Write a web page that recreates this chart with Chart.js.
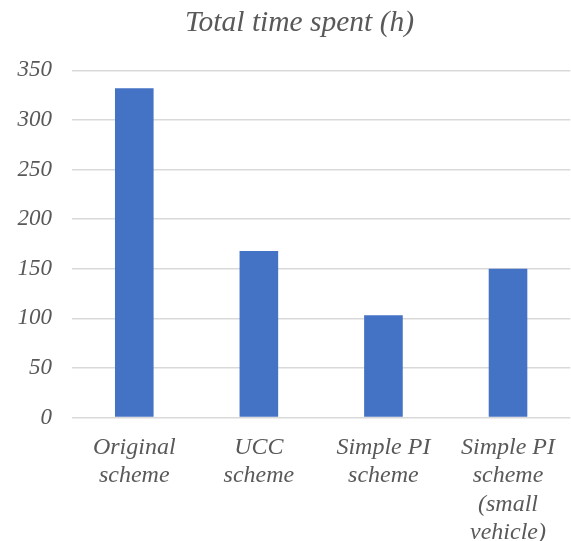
<!DOCTYPE html>
<html>
<head>
<meta charset="utf-8">
<script src="https://cdn.jsdelivr.net/npm/chart.js@4"></script>
<style>
html,body{margin:0;padding:0;background:#fff;}
#wrap{width:571px;height:541px;}
</style>
</head>
<body>
<div id="wrap"><canvas id="c" width="571" height="541"></canvas></div>
<script>
const categories = [["Original","scheme"],["UCC","scheme"],["Simple PI","scheme"],["Simple PI","scheme","(small","vehicle)"]];
const totalTime = [332, 168, 103, 150];
const yTicks = [0, 50, 100, 150, 200, 250, 300, 350];
const titleText = "Total time spent (h)";

const fontFamily = "'Liberation Serif','Times New Roman',serif";
const textColor = "#595959";

const shiftTitle = {
  id: 'shiftTitle',
  afterLayout(chart) {
    if (chart.titleBlock) {
      const w = chart.titleBlock.right - chart.titleBlock.left;
      chart.titleBlock.left = 299.5 - w / 2;
      chart.titleBlock.right = 299.5 + w / 2;
    }
  }
};

new Chart(document.getElementById('c'), {
  type: 'bar',
  data: {
    labels: categories,
    datasets: [{
      data: totalTime,
      backgroundColor: '#4472C4',
      borderWidth: 0,
      categoryPercentage: 1,
      barPercentage: 0.31
    }]
  },
  plugins: [shiftTitle],
  options: {
    responsive: false,
    animation: false,
    devicePixelRatio: 1,
    layout: {padding: {top: 0, left: 0, right: -4, bottom: 0}},
    plugins: {
      legend: {display: false},
      tooltip: {enabled: false},
      title: {
        display: true,
        text: titleText,
        color: textColor,
        font: {family: fontFamily, size: 29.5, style: 'italic', weight: 'normal', lineHeight: 1.2},
        padding: {top: 6, bottom: 29}
      }
    },
    scales: {
      y: {
        min: 0, max: 350,
        afterBuildTicks: (axis) => { axis.ticks = yTicks.map(v => ({value: v})); },
        afterFit: (axis) => { axis.width = 72; },
        border: {display: false},
        grid: {color: '#d9d9d9', lineWidth: 1.5, drawTicks: false},
        ticks: {
          color: textColor, padding: 20,
          font: {family: fontFamily, size: 23, style: 'italic'}
        }
      },
      x: {
        afterFit: (axis) => { axis.height = 123.5; },
        border: {display: false},
        grid: {display: false, drawTicks: false},
        ticks: {
          color: textColor, padding: 16, maxRotation: 0, autoSkip: false,
          font: {family: fontFamily, size: 24, style: 'italic', lineHeight: 1.18}
        }
      }
    }
  }
});
</script>
</body>
</html>
